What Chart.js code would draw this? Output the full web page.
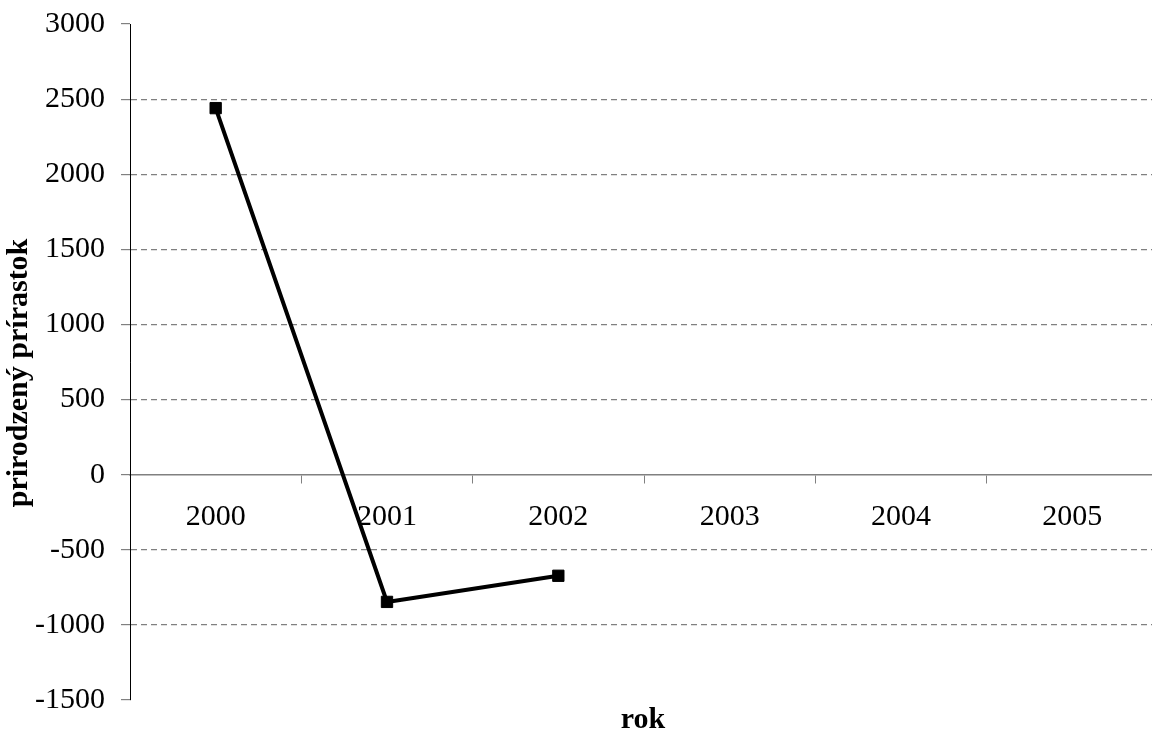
<!DOCTYPE html>
<html>
<head>
<meta charset="utf-8">
<script src="https://cdn.jsdelivr.net/npm/chart.js@4/dist/chart.umd.min.js"></script>
<style>
  html, body { margin: 0; padding: 0; background: #fff; overflow: hidden; }
  #wrap { width: 1167px; height: 733px; }
</style>
</head>
<body>
<div id="wrap"><canvas id="chart" width="1167" height="733"></canvas></div>
<script>
const years = ['2000', '2001', '2002', '2003', '2004', '2005'];
const prirastok = [2440, -847, -673, null, null, null];
const yTicks = [-1500, -1000, -500, 0, 500, 1000, 1500, 2000, 2500, 3000];

const yTitle = 'prirodzený prírastok';
const xTitle = 'rok';

Chart.defaults.font.family = '"Liberation Serif", "Times New Roman", serif';
Chart.defaults.color = '#000';

// axis titles drawn by hand so they sit where the original has them
const axisTitles = {
  id: 'axisTitles',
  afterDraw(chart) {
    const { ctx } = chart;
    ctx.save();
    ctx.fillStyle = '#000';
    ctx.font = 'bold 30px "Liberation Serif", serif';
    ctx.textAlign = 'center';
    ctx.textBaseline = 'alphabetic';
    ctx.fillText(xTitle, 643, 728);

    ctx.translate(27, 373);
    ctx.rotate(-Math.PI / 2);
    ctx.fillText(yTitle, 0, 0);
    ctx.restore();
  }
};

new Chart(document.getElementById('chart'), {
  type: 'line',
  data: {
    labels: years,
    datasets: [
      {
        label: yTitle,
        data: prirastok,
        borderColor: '#000',
        borderWidth: 4,
        tension: 0,
        spanGaps: false,
        pointStyle: 'rect',
        pointRadius: 8,
        pointHoverRadius: 8,
        pointBackgroundColor: '#000',
        pointBorderColor: '#000',
        pointBorderWidth: 1,
      },
    ],
  },
  options: {
    responsive: false,
    animation: false,
    layout: { padding: { top: 24, left: 0, right: 0, bottom: 33 } },
    plugins: {
      legend: { display: false },
      tooltip: { enabled: false },
    },
    scales: {
      x: {
        position: { y: 0 },
        offset: true,
        grid: {
          offset: true,
          drawOnChartArea: false,
          drawTicks: true,
          tickLength: 8,
          tickColor: '#808080',
        },
        border: { color: '#808080', width: 1.5 },
        ticks: {
          font: { size: 30 },
          padding: 16,
          maxRotation: 0,
        },
        afterFit: (scale) => {
          scale.height = 10;
          scale.paddingLeft = 0;
          scale.paddingRight = 0;
        },
      },
      y: {
        min: yTicks[0],
        max: yTicks[yTicks.length - 1],
        afterBuildTicks: (scale) => {
          scale.ticks = yTicks.map((v) => ({ value: v }));
        },
        grid: {
          color: (context) => {
            const v = context.tick && context.tick.value;
            if (v === 0 || v === yTicks[0] || v === yTicks[yTicks.length - 1]) return 'rgba(0,0,0,0)';
            return '#808080';
          },
          lineWidth: 1.2,
          tickLength: 9,
          tickColor: '#808080',
          tickWidth: 1.2,
        },
        border: { color: '#000', width: 1, dash: [6, 4] },
        ticks: {
          font: { size: 30 },
          padding: 16,
          callback: (value) => String(value),
        },
        afterFit: (scale) => {
          scale.width = 130;
          scale.paddingTop = 0;
          scale.paddingBottom = 0;
        },
      },
    },
  },
  plugins: [axisTitles],
});
</script>
</body>
</html>
